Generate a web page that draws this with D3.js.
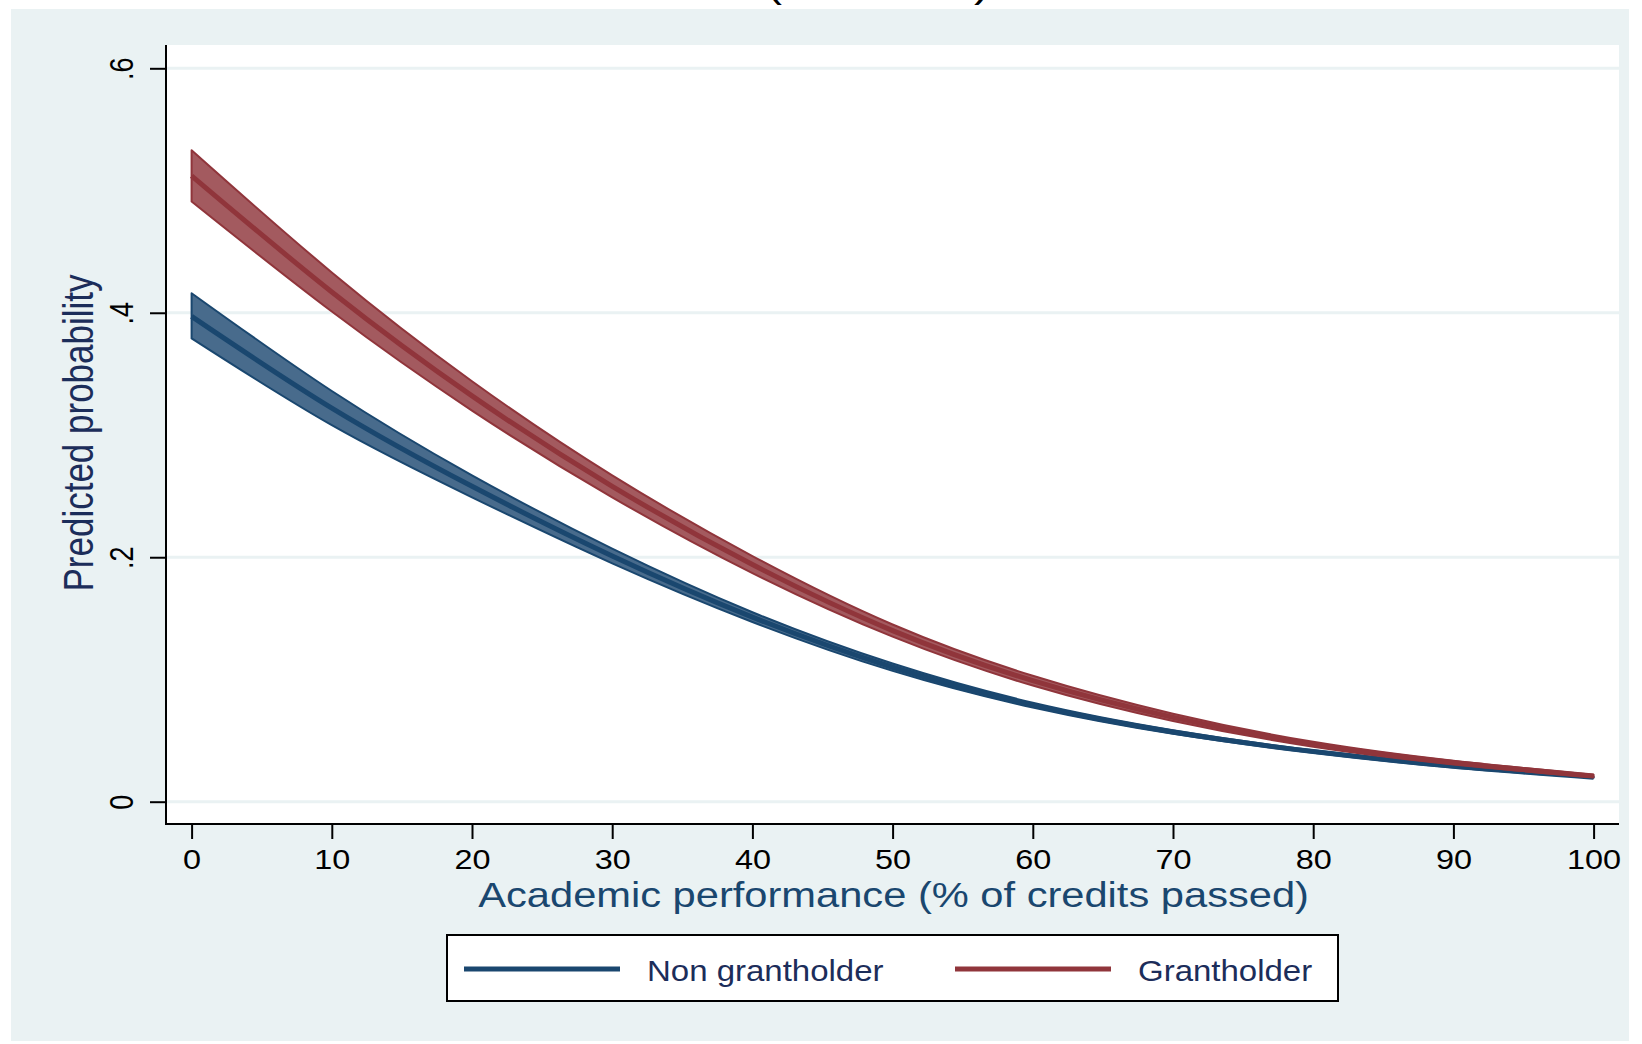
<!DOCTYPE html>
<html>
<head>
<meta charset="utf-8">
<script src="https://cdn.jsdelivr.net/npm/d3@7"></script>
<style>
  html, body { margin: 0; padding: 0; background: #ffffff; }
  svg { display: block; }
  text { font-family: "Liberation Sans", Arial, Helvetica, sans-serif; }
</style>
</head>
<body>
<svg id="chart" width="1642" height="1044"></svg>
<script>
// ---- data ----
const xValues = [0, 10, 20, 30, 40, 50, 60, 70, 80, 90, 100];

const nonGrantMean  = [0.397, 0.322, 0.258, 0.201, 0.151, 0.110, 0.079, 0.057, 0.041, 0.029, 0.020];
const nonGrantUpper = [0.416, 0.336, 0.267, 0.207, 0.155, 0.113, 0.081, 0.0585, 0.042, 0.030, 0.0205];
const nonGrantLower = [0.379, 0.308, 0.249, 0.195, 0.147, 0.107, 0.077, 0.0555, 0.040, 0.028, 0.0195];

const grantMean  = [0.512, 0.417, 0.332, 0.258, 0.194, 0.140, 0.099, 0.069, 0.047, 0.032, 0.021];
const grantUpper = [0.533, 0.433, 0.344, 0.267, 0.201, 0.145, 0.103, 0.072, 0.049, 0.0335, 0.022];
const grantLower = [0.491, 0.401, 0.320, 0.249, 0.187, 0.135, 0.095, 0.066, 0.045, 0.0305, 0.020];

const xTicks = [0, 10, 20, 30, 40, 50, 60, 70, 80, 90, 100];
const xTickLabels = ["0", "10", "20", "30", "40", "50", "60", "70", "80", "90", "100"];
const yTicks = [0, 0.2, 0.4, 0.6];
const yTickLabels = ["0", ".2", ".4", ".6"];

const seriesNames = ["Non grantholder", "Grantholder"];
const xTitle = "Academic performance (% of credits passed)";
const yTitle = "Predicted probability";

// ---- layout ----
const svg = d3.select("#chart");
const plot = { left: 166, right: 1619, top: 45, bottom: 824 };

const colors = {
  bg: "#eaf2f3",
  navy: "#1a476f",
  navyFill: "#486b8c",
  maroon: "#90353b",
  maroonFill: "#a35a5f",
  titleDark: "#1c2d5a"
};

const x = d3.scaleLinear().domain([0, 100]).range([191.6, 1593.6]);
const y = d3.scaleLinear().domain([0, 0.6]).range([801.7, 68.3]);

// outer background
svg.append("rect").attr("x", 11).attr("y", 9).attr("width", 1618).attr("height", 1032).attr("fill", colors.bg);
// plot region
svg.append("rect").attr("x", plot.left).attr("y", plot.top)
  .attr("width", plot.right - plot.left).attr("height", plot.bottom - plot.top).attr("fill", "#ffffff");

// title remnants (cut off at top in the reference)
svg.append("text").attr("transform", "translate(774,-3) scale(1.2,1)").attr("text-anchor", "middle")
  .attr("font-size", 40).attr("fill", "#000").text("(");
svg.append("text").attr("transform", "translate(982,-3) scale(1.2,1)").attr("text-anchor", "middle")
  .attr("font-size", 40).attr("fill", "#000").text(")");

// gridlines
svg.append("g").selectAll("line").data(yTicks).join("line")
  .attr("x1", plot.left).attr("x2", plot.right)
  .attr("y1", d => y(d)).attr("y2", d => y(d))
  .attr("stroke", colors.bg).attr("stroke-width", 3);

// series drawing
function build(mean, lower, upper) {
  return xValues.map((v, i) => ({ x: v, m: mean[i], lo: lower[i], hi: upper[i] }));
}
const curve = d3.curveNatural;
const area = d3.area().x(d => x(d.x)).y0(d => y(d.lo)).y1(d => y(d.hi)).curve(curve);
const line = d3.line().x(d => x(d.x)).y(d => y(d.m)).curve(curve);

const series = [
  { data: build(nonGrantMean, nonGrantLower, nonGrantUpper), stroke: colors.navy, fill: colors.navyFill },
  { data: build(grantMean, grantLower, grantUpper), stroke: colors.maroon, fill: colors.maroonFill }
];

const gSeries = svg.append("g");
series.forEach(s => {
  gSeries.append("path").attr("d", area(s.data)).attr("fill", s.fill)
    .attr("stroke", s.stroke).attr("stroke-width", 2).attr("stroke-linejoin", "round");
  gSeries.append("path").attr("d", line(s.data)).attr("fill", "none")
    .attr("stroke", s.stroke).attr("stroke-width", 5);
});

// axes
const xAxis = d3.axisBottom(x).tickValues(xTicks).tickFormat((d, i) => xTickLabels[i]).tickSize(15).tickSizeOuter(0);
const gx = svg.append("g").attr("transform", `translate(0,${plot.bottom})`).call(xAxis);
gx.select(".domain").remove();
gx.selectAll(".tick line").attr("stroke", "#000").attr("stroke-width", 2);
gx.selectAll(".tick text").remove();
gx.selectAll(".tick").append("text")
  .attr("transform", "translate(0,45) scale(1.2,1)")
  .attr("text-anchor", "middle").attr("font-size", 27).attr("fill", "#000")
  .text((d, i) => xTickLabels[i]);

const yAxis = d3.axisLeft(y).tickValues(yTicks).tickFormat((d, i) => yTickLabels[i]).tickSize(16).tickSizeOuter(0);
const gy = svg.append("g").attr("transform", `translate(${plot.left},0)`).call(yAxis);
gy.select(".domain").remove();
gy.selectAll(".tick line").attr("stroke", "#000").attr("stroke-width", 2);
gy.selectAll(".tick text").remove();
gy.selectAll(".tick").append("text")
  .attr("transform", "translate(-33,0) scale(1.2,1) rotate(-90)")
  .attr("text-anchor", "middle").attr("font-size", 27).attr("fill", "#000")
  .text((d, i) => yTickLabels[i]);

// axis lines
svg.append("line").attr("x1", plot.left).attr("x2", plot.left).attr("y1", plot.top).attr("y2", plot.bottom + 1)
  .attr("stroke", "#000").attr("stroke-width", 2);
svg.append("line").attr("x1", plot.left - 1).attr("x2", plot.right).attr("y1", plot.bottom).attr("y2", plot.bottom)
  .attr("stroke", "#000").attr("stroke-width", 2);

// axis titles
svg.append("text").attr("transform", `translate(${x(50) + 1},907) scale(1.19,1)`)
  .attr("text-anchor", "middle").attr("font-size", 35).attr("fill", colors.navy).text(xTitle);
svg.append("text").attr("transform", "translate(92.7,433) scale(1.2,1) rotate(-90)")
  .attr("text-anchor", "middle").attr("font-size", 35).attr("fill", colors.titleDark).text(yTitle);

// legend
const lg = svg.append("g");
lg.append("rect").attr("x", 447).attr("y", 935).attr("width", 891).attr("height", 66)
  .attr("fill", "#fff").attr("stroke", "#000").attr("stroke-width", 2);
const legendItems = [
  { name: seriesNames[0], color: colors.navy, x1: 464, x2: 620, tx: 647 },
  { name: seriesNames[1], color: colors.maroon, x1: 955, x2: 1111, tx: 1138 }
];
legendItems.forEach(it => {
  lg.append("line").attr("x1", it.x1).attr("x2", it.x2).attr("y1", 969).attr("y2", 969)
    .attr("stroke", it.color).attr("stroke-width", 5);
  lg.append("text").attr("transform", `translate(${it.tx},980.7) scale(1.1,1)`)
    .attr("font-size", 30).attr("fill", colors.titleDark).text(it.name);
});
</script>
</body>
</html>
